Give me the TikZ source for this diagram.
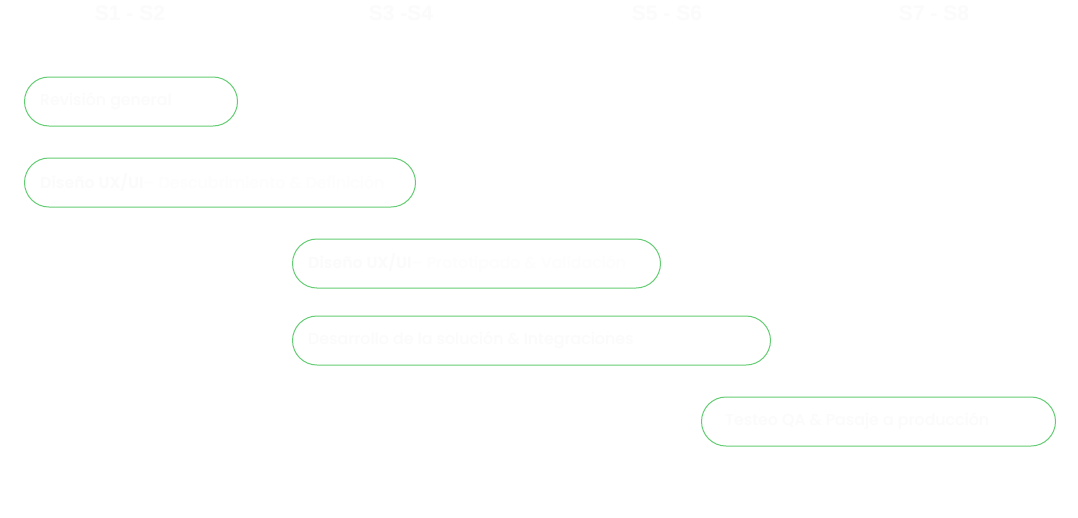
\documentclass[tikz,border=0pt]{standalone}
\usepackage{fontspec}
\setmainfont{Poppins}[UprightFont=* Medium,BoldFont=* SemiBold]
\newfontfamily\headfont{Liberation Sans}
\definecolor{pillgreen}{RGB}{100,205,115}
\definecolor{txtA}{RGB}{251,251,251}
\definecolor{txtB}{RGB}{253,253,253}
\begin{document}
\begin{tikzpicture}[x=1pt,y=1pt,
  pill/.style={draw=pillgreen,line width=1pt,rounded corners=24.5pt,
    minimum height=49pt,inner sep=0pt,anchor=west},
  pilltext/.style={anchor=west,inner sep=0pt,font=\fontsize{15.8}{19}\selectfont,text=txtA},
  head/.style={font=\headfont\bfseries\fontsize{21}{24}\selectfont,text=txtA,inner sep=0pt}
]
\useasboundingbox (0,0) rectangle (1078,-517);
\fill[white] (0,0) rectangle (1078,-517);
% headers
\node[head] (h1) at (130,-13) {S1 - S2};
\node[head] (h2) at (401,-13) {S3 -S4};
\node[head] (h3) at (667,-13) {S5 - S6};
\node[head] (h4) at (934,-13) {S7 - S8};
% pills
\node[pill,minimum width=213pt] (p1) at (24,-101.5) {};
\node[pill,minimum width=391pt] (p2) at (24,-182.5) {};
\node[pill,minimum width=368pt] (p3) at (292,-263.5) {};
\node[pill,minimum width=478pt] (p4) at (292,-340.5) {};
\node[pill,minimum width=354pt] (p5) at (701,-421.5) {};
% texts
\node[pilltext] (t1) at ([xshift=16pt]p1.west) {Revisión general};
\node[pilltext] (t2) at ([xshift=16pt]p2.west) {\textbf{Diseño UX/UI}\textcolor{txtB}{ – Descubrimiento \& Definición}};
\node[pilltext] (t3) at ([xshift=16pt]p3.west) {\textbf{Diseño UX/UI}\textcolor{txtB}{ – Prototipado \& Validación}};
\node[pilltext] (t4) at ([xshift=16pt]p4.west) {Desarrollo de la solución \& Integraciones};
\node[pilltext] (t5) at ([xshift=24pt]p5.west) {Testeo QA \& Pasaje a producción};
\end{tikzpicture}
\end{document}
